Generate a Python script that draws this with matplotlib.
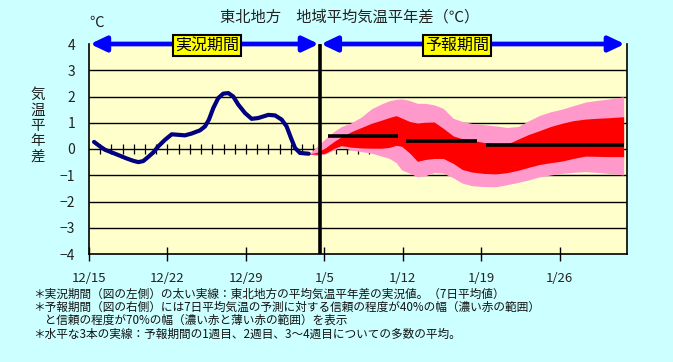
import matplotlib
matplotlib.use('Agg')
import matplotlib.pyplot as plt
import numpy as np

plt.rcParams['font.family'] = ['Noto Sans CJK JP', 'DejaVu Sans']

# days counted from 12/15
tick_days = [0, 7, 14, 21, 28, 35, 42]
tick_labels = ['12/15', '12/22', '12/29', '1/5', '1/12', '1/19', '1/26']

# observed 7-day mean anomaly
obs_days = [0.45, 0.98, 1.43, 2.02, 2.61, 3.36, 3.95, 4.40, 4.84, 5.29, 5.74, 6.18,
            6.78, 7.38, 7.97, 8.56, 9.16, 9.9, 10.35, 10.7, 11.09, 11.53, 11.98,
            12.43, 12.87, 13.32, 13.92, 14.51, 15.1, 16.0, 16.6, 17.19, 17.63,
            18.02, 18.38, 18.82, 19.6]
obs_vals = [0.27, 0.10, -0.03, -0.13, -0.23, -0.36, -0.45, -0.50, -0.46, -0.30, -0.13,
            0.10, 0.35, 0.56, 0.54, 0.52, 0.59, 0.71, 0.86, 1.12, 1.56, 1.94, 2.11,
            2.13, 2.00, 1.69, 1.37, 1.15, 1.18, 1.30, 1.28, 1.12, 0.86, 0.42, 0.04,
            -0.15, -0.18]

# forecast ranges
fc_days = [19.6, 20.4, 21.1, 21.9, 22.5, 23.4, 24.3, 25.2, 26.1, 26.8, 27.4, 27.9,
           28.6, 29.3, 30.0, 30.8, 31.6, 32.5, 33.3, 34.2, 35.2, 36.3, 37.3, 38.3,
           39.2, 40.2, 41.2, 42.2, 43.2, 44.3, 45.3, 46.3, 47.7]
up70 = [-0.19, 0.12, 0.40, 0.68, 0.85, 1.00, 1.22, 1.53, 1.72, 1.84, 1.89, 1.91,
        1.85, 1.74, 1.74, 1.68, 1.55, 1.17, 1.05, 0.97, 0.93, 0.88, 0.82, 0.86,
        1.07, 1.28, 1.42, 1.52, 1.65, 1.79, 1.85, 1.90, 1.99]
up40 = [-0.19, -0.12, 0.05, 0.30, 0.46, 0.66, 0.82, 0.98, 1.10, 1.20, 1.27, 1.18,
        1.05, 0.99, 1.02, 1.03, 0.79, 0.50, 0.39, 0.33, 0.25, 0.20, 0.18, 0.38,
        0.55, 0.70, 0.86, 0.98, 1.08, 1.14, 1.17, 1.19, 1.23]
lo40 = [-0.19, -0.20, -0.16, 0.03, 0.13, 0.07, 0.04, 0.03, 0.03, 0.06, 0.14, 0.10,
        -0.15, -0.47, -0.40, -0.36, -0.36, -0.55, -0.78, -0.88, -0.93, -0.95, -0.90,
        -0.81, -0.70, -0.59, -0.52, -0.46, -0.36, -0.27, -0.28, -0.29, -0.29]
lo70 = [-0.19, -0.25, -0.18, -0.03, 0.08, -0.04, -0.10, -0.16, -0.27, -0.36, -0.52,
        -0.80, -0.92, -1.06, -1.02, -0.90, -0.92, -1.10, -1.30, -1.40, -1.43, -1.44,
        -1.36, -1.27, -1.18, -1.06, -0.99, -0.93, -0.89, -0.86, -0.89, -0.93, -0.99]

# ensemble means: week 1, week 2, weeks 3-4
mean_start = [21.34, 28.3, 35.4]
mean_end = [27.58, 34.6, 47.7]
mean_vals = [0.51, 0.30, 0.15]

split_day = 20.6

notes = [
    '＊実況期間（図の左側）の太い実線：東北地方の平均気温平年差の実況値。（7日平均値）',
    '＊予報期間（図の右側）には7日平均気温の予測に対する信頼の程度が40%の幅（濃い赤の範囲）',
    '　と信頼の程度が70%の幅（濃い赤と薄い赤の範囲）を表示',
    '＊水平な3本の実線：予報期間の1週目、2週目、3～4週目についての多数の平均。',
]

fig = plt.figure(figsize=(6.73, 3.62), dpi=100, facecolor='#CCFFFF')
ax = fig.add_axes([89 / 673, 108 / 362, 538 / 673, 210 / 362])
ax.set_facecolor('#FFFFCC')
ax.set_xlim(0, 48)
ax.set_ylim(-4, 4)

for y in range(-3, 4):
    ax.axhline(y, color='black', lw=1.0, zorder=1)
ax.vlines(np.arange(1, 48), -0.19, 0.19, color='black', lw=0.9, zorder=1)

ax.fill_between(fc_days, lo70, up70, color='#FF99CC', lw=0, zorder=2)
ax.fill_between(fc_days, lo40, up40, color='#FF0000', lw=0, zorder=3)
ax.hlines(mean_vals, mean_start, mean_end, color='black', lw=2.6, zorder=4)
ax.plot(obs_days, obs_vals, color='#000080', lw=3.0, solid_capstyle='round',
        solid_joinstyle='round', zorder=5)
ax.axvline(split_day, color='black', lw=2.6, zorder=6)

for s in ['left', 'right', 'bottom']:
    ax.spines[s].set_color('black')
    ax.spines[s].set_linewidth(1.2)
ax.spines['top'].set_visible(False)

ax.set_xticks(tick_days)
ax.set_xticklabels(tick_labels, fontsize=9.5, color='#222222')
ax.tick_params(axis='x', direction='inout', length=10, width=1, pad=8)
ax.set_yticks(range(-4, 5))
ax.set_yticklabels([str(v).replace('-', '−') for v in range(-4, 5)], fontsize=10,
                   color='#222222')
ax.tick_params(axis='y', length=0, pad=10)

arrow = dict(arrowstyle='<|-|>,head_length=0.95,head_width=0.45', color='#0000FF',
             lw=3.4, shrinkA=0, shrinkB=0, mutation_scale=10)
ax.annotate('', xy=(0.1, 4), xytext=(split_day - 0.1, 4), arrowprops=arrow,
            annotation_clip=False, zorder=7)
ax.annotate('', xy=(split_day + 0.1, 4), xytext=(47.8, 4), arrowprops=arrow,
            annotation_clip=False, zorder=7)

box = dict(boxstyle='square,pad=0.12', fc='#FFFF00', ec='black', lw=1.5)
ax.text(10.5, 3.94, '実況期間', ha='center', va='center', fontsize=11.5,
        bbox=box, zorder=8, clip_on=False)
ax.text(32.8, 3.94, '予報期間', ha='center', va='center', fontsize=11.5,
        bbox=box, zorder=8, clip_on=False)

fig.text(350 / 673, 1 - 17 / 362, '東北地方　地域平均気温平年差（℃）', ha='center',
         va='center', fontsize=11, color='#222222')
fig.text(97 / 673, 1 - 23 / 362, '℃', ha='center', va='center', fontsize=10.5,
         color='#222222')
fig.text(38 / 673, 1 - 126 / 362, '気\n温\n平\n年\n差', ha='center', va='center',
         fontsize=10.5, linespacing=1.12, color='#222222')

note_y = [294, 307, 320, 334]
for txt, y in zip(notes, note_y):
    fig.text(33 / 673, 1 - y / 362, txt, ha='left', va='center', fontsize=8.4,
             color='#111111')

fig.savefig('out.png', dpi=100, facecolor=fig.get_facecolor())
